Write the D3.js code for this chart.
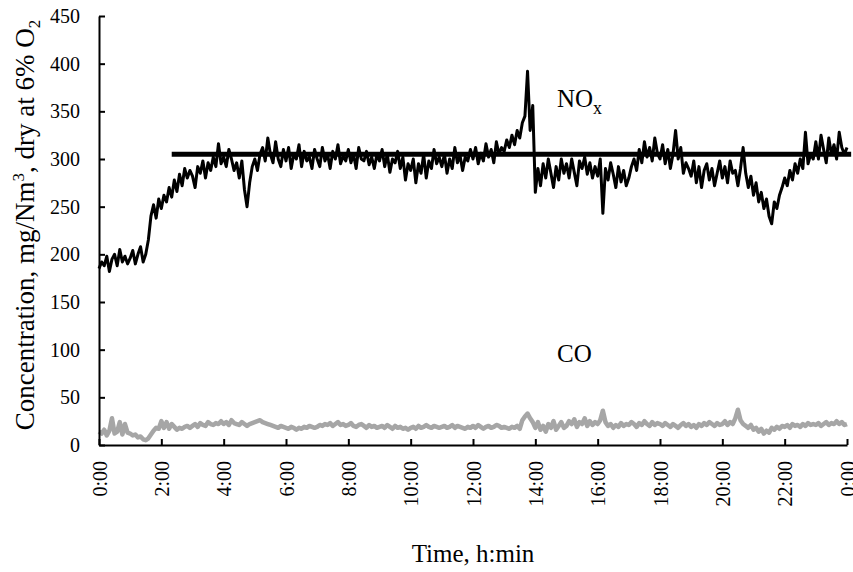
<!DOCTYPE html>
<html>
<head>
<meta charset="utf-8">
<title>NOx and CO concentration</title>
<style>
body { margin: 0; background: #fff; }
text { font-family: "Liberation Serif", "Times New Roman", serif; fill: #000; }
.axis path, .axis line { stroke: #000; stroke-width: 2px; }
.axis text { font-size: 20px; }
</style>
</head>
<body>
<script src="https://cdn.jsdelivr.net/npm/d3@7"></script>
<script>
// 5-minute readings, 0:00 .. 24:00 (one row per hour)
var noxValues = [
  185,192,188,198,182,195,200,188,205,192,198,190,
  196,204,190,200,208,192,200,215,240,252,238,258,
  248,262,255,270,260,278,266,284,272,290,280,288,
  282,270,292,285,298,280,296,288,302,292,316,295,
  302,292,310,300,288,296,280,298,268,250,275,292,
  300,288,305,312,298,322,305,296,318,300,292,310,
  298,312,290,305,300,315,292,308,298,302,290,310,
  300,292,312,298,305,290,308,300,315,295,303,298,
  310,296,305,290,312,300,298,308,294,302,290,305,
  298,310,292,305,286,300,296,308,290,302,278,295,
  288,300,275,295,285,305,280,298,290,310,295,302,
  292,305,285,300,290,312,296,304,288,302,298,310,
  300,312,295,306,298,316,302,310,296,318,305,312,
  308,320,312,325,315,330,322,338,345,392,330,356,
  265,290,272,295,280,300,285,270,292,278,300,285,
  295,280,300,286,272,298,290,302,284,296,280,292,
  282,300,243,290,278,296,284,270,292,276,288,272,
  280,292,300,288,310,296,318,302,312,298,322,306,
  300,315,295,310,290,305,330,300,312,285,296,290,
  282,298,275,292,270,288,295,278,290,272,285,298,
  280,292,275,298,285,288,272,290,312,285,270,282,
  262,275,255,265,248,258,240,232,255,248,262,270,
  280,272,288,278,295,285,300,290,328,295,305,300,
  318,300,325,310,296,322,305,315,300,328,312,305,
  312
];
var coValues = [
  14,12,16,10,15,28,12,14,24,11,22,13,
  12,10,11,8,9,6,5,7,11,15,18,17,
  25,18,24,17,22,19,16,18,17,19,20,18,
  20,22,19,23,21,20,24,22,21,23,22,25,
  22,24,21,26,23,22,21,24,22,20,22,23,
  24,25,26,24,23,22,21,20,19,18,20,19,
  18,17,19,18,16,18,17,19,18,20,19,18,
  19,21,20,22,21,23,20,22,24,21,22,20,
  21,23,20,19,21,22,20,18,21,19,20,18,
  19,20,18,21,19,17,20,18,19,17,18,16,
  18,19,17,20,18,19,21,19,18,20,19,18,
  19,20,18,19,21,18,20,19,18,17,19,18,
  20,18,21,19,17,19,20,18,19,21,20,18,
  19,18,17,19,18,20,17,26,30,33,28,24,
  18,24,16,20,14,22,18,25,16,20,24,18,
  20,25,22,27,19,24,22,28,20,25,21,24,
  22,26,36,24,20,22,18,21,19,23,20,22,
  21,24,22,19,23,21,25,22,20,24,21,23,
  22,20,23,21,19,22,20,18,21,23,20,22,
  19,21,18,22,20,23,21,24,22,20,23,21,
  22,25,21,24,22,28,37,26,22,20,18,21,
  16,18,14,17,12,15,13,18,16,19,17,20,
  19,21,18,22,20,21,19,22,20,23,21,22,
  21,23,20,22,24,21,23,22,25,22,24,21,
  22
];
var stepMinutes = 5;
var targetLevel = 305;
var targetSpan = [140, 1448];          // minutes
var xTicks = [0, 120, 240, 360, 480, 600, 720, 840, 960, 1080, 1200, 1320, 1440];
var yTicks = [0, 50, 100, 150, 200, 250, 300, 350, 400, 450];

var width = 853, height = 572;
var margin = {left: 99, right: 6, top: 16, bottom: 127};

var svg = d3.select("body").append("svg")
    .attr("width", width)
    .attr("height", height);

var x = d3.scaleLinear().domain([0, 1440]).range([margin.left, width - margin.right]);
var y = d3.scaleLinear().domain([0, 450]).range([height - margin.bottom, margin.top]);

function fmtTime(m) {
  return ((m / 60) % 24) + ":00";
}

// lines
var line = d3.line()
    .x(function(d, i) { return x(i * stepMinutes); })
    .y(function(d) { return y(d); });

svg.append("path")
    .datum(coValues)
    .attr("d", line)
    .attr("fill", "none")
    .attr("stroke", "#a6a6a6")
    .attr("stroke-width", 4.5)
    .attr("stroke-linejoin", "round");

svg.append("path")
    .datum(noxValues)
    .attr("d", line)
    .attr("fill", "none")
    .attr("stroke", "#000")
    .attr("stroke-width", 3)
    .attr("stroke-linejoin", "round");

svg.append("line")
    .attr("x1", x(targetSpan[0]))
    .attr("x2", x(targetSpan[1]))
    .attr("y1", y(targetLevel))
    .attr("y2", y(targetLevel))
    .attr("stroke", "#000")
    .attr("stroke-width", 5);

// axes
var xAxis = svg.append("g")
    .attr("class", "axis")
    .attr("transform", "translate(0," + y(0) + ")")
    .call(d3.axisBottom(x).tickValues(xTicks).tickFormat(fmtTime).tickSize(-6).tickSizeOuter(0));

xAxis.selectAll("text")
    .attr("transform", "rotate(-90)")
    .attr("text-anchor", "end")
    .attr("x", -16)
    .attr("y", 0)
    .attr("dy", "0.35em");

svg.append("g")
    .attr("class", "axis")
    .attr("transform", "translate(" + x(0) + ",0)")
    .call(d3.axisLeft(y).tickValues(yTicks).tickSize(-6).tickSizeOuter(0).tickPadding(19));

svg.selectAll(".axis .domain").attr("stroke-width", 2);

// titles
svg.append("text")
    .attr("x", (x(0) + x(1440)) / 2)
    .attr("y", 562)
    .attr("text-anchor", "middle")
    .style("font-size", "25px")
    .text("Time, h:min");

var yTitle = svg.append("text")
    .attr("transform", "translate(34," + 225 + ") rotate(-90)")
    .attr("text-anchor", "middle")
    .style("font-size", "27px");
yTitle.append("tspan").text("Concentration, mg/Nm");
yTitle.append("tspan").attr("dy", -10).style("font-size", "17px").text("3");
yTitle.append("tspan").attr("dy", 10).text(", dry at 6% O");
yTitle.append("tspan").attr("dy", 6).style("font-size", "17px").text("2");

// series labels
var noxLabel = svg.append("text")
    .attr("x", 557)
    .attr("y", 107)
    .style("font-size", "25px");
noxLabel.append("tspan").text("NO");
noxLabel.append("tspan").attr("dy", 7).style("font-size", "18px").text("x");

svg.append("text")
    .attr("x", 557)
    .attr("y", 362)
    .style("font-size", "25px")
    .text("CO");
</script>
</body>
</html>
